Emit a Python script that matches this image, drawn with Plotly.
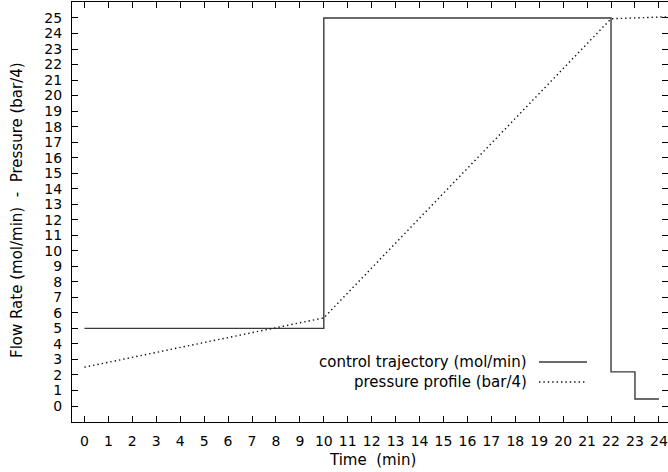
import plotly.graph_objects as go

# Data
control_t = [0, 10, 10, 22, 22, 23, 23, 24]
control_v = [5, 5, 25, 25, 2.2, 2.2, 0.45, 0.45]

pressure_t = [0, 10, 22, 24.4]
pressure_v = [2.5, 5.68, 24.95, 25.08]

x_ticks = list(range(0, 25))
y_ticks = list(range(0, 26))

legend_names = ["control trajectory (mol/min)", "pressure profile (bar/4)"]
x_title = "Time&nbsp;&nbsp;(min)"
y_title = "Flow Rate (mol/min)&nbsp;&nbsp;-&nbsp;&nbsp;Pressure (bar/4)"

FONT = "DejaVu Sans, Liberation Sans, Arial, sans-serif"
FS = 14      # tick labels
FT = 15      # titles and legend

fig = go.Figure()
fig.add_trace(go.Scatter(x=control_t, y=control_v, mode="lines",
                         line=dict(color="#3a3a3a", width=1.4), showlegend=False,
                         name=legend_names[0]))
fig.add_trace(go.Scatter(x=pressure_t, y=pressure_v, mode="lines",
                         line=dict(color="#111111", width=1.4, dash="1.4px,3px"),
                         showlegend=False, name=legend_names[1]))

W, H = 668, 472
L, R, T, B = 72, 0, 2, 50
pw, ph = W - L - R, H - T - B

def px(x):
    return (x - L) / pw

def py(y):
    return (H - B - y) / ph

# Legend drawn manually (text left of sample line, like the original)
rows = [(362, dict(color="#3a3a3a", width=1.4, dash="solid")),
        (382, dict(color="#111111", width=1.4, dash="1.4px,3px"))]
for name, (yy, ln) in zip(legend_names, rows):
    fig.add_annotation(x=px(529), y=py(yy), xref="paper", yref="paper",
                       text=name, showarrow=False, xanchor="right", yanchor="middle",
                       font=dict(family=FONT, size=FT, color="#000"))
    fig.add_shape(type="line", xref="paper", yref="paper",
                  x0=px(539), x1=px(587), y0=py(yy), y1=py(yy), line=ln)

# Axis titles
fig.add_annotation(x=px(372), y=py(460), xref="paper", yref="paper",
                   text=x_title, showarrow=False, xanchor="center", yanchor="middle",
                   font=dict(family=FONT, size=FT, color="#000"))
fig.add_annotation(x=px(17), y=py(210), xref="paper", yref="paper",
                   text=y_title, showarrow=False, xanchor="center", yanchor="middle",
                   textangle=-90,
                   font=dict(family=FONT, size=FT, color="#000"))

axis_common = dict(showgrid=False, zeroline=False, showline=True, linecolor="#000",
                   linewidth=1, mirror="allticks", ticks="inside", ticklen=6,
                   tickcolor="#000", tickwidth=1,
                   tickfont=dict(family=FONT, size=FS, color="#000"))

fig.update_xaxes(range=[-0.52, 24.38], tickvals=x_ticks,
                 ticktext=[str(v) for v in x_ticks],
                 ticklabelstandoff=6,
                 **axis_common)
fig.update_yaxes(range=[-1.03, 26.03], tickvals=y_ticks,
                 ticktext=[str(v) for v in y_ticks],
                 ticklabelstandoff=6,
                 **axis_common)

fig.update_layout(width=W, height=H, margin=dict(l=L, r=R, t=T, b=B, pad=0),
                  plot_bgcolor="white", paper_bgcolor="white",
                  font=dict(family=FONT, size=FS, color="#000"))

fig.write_html("out.html")
